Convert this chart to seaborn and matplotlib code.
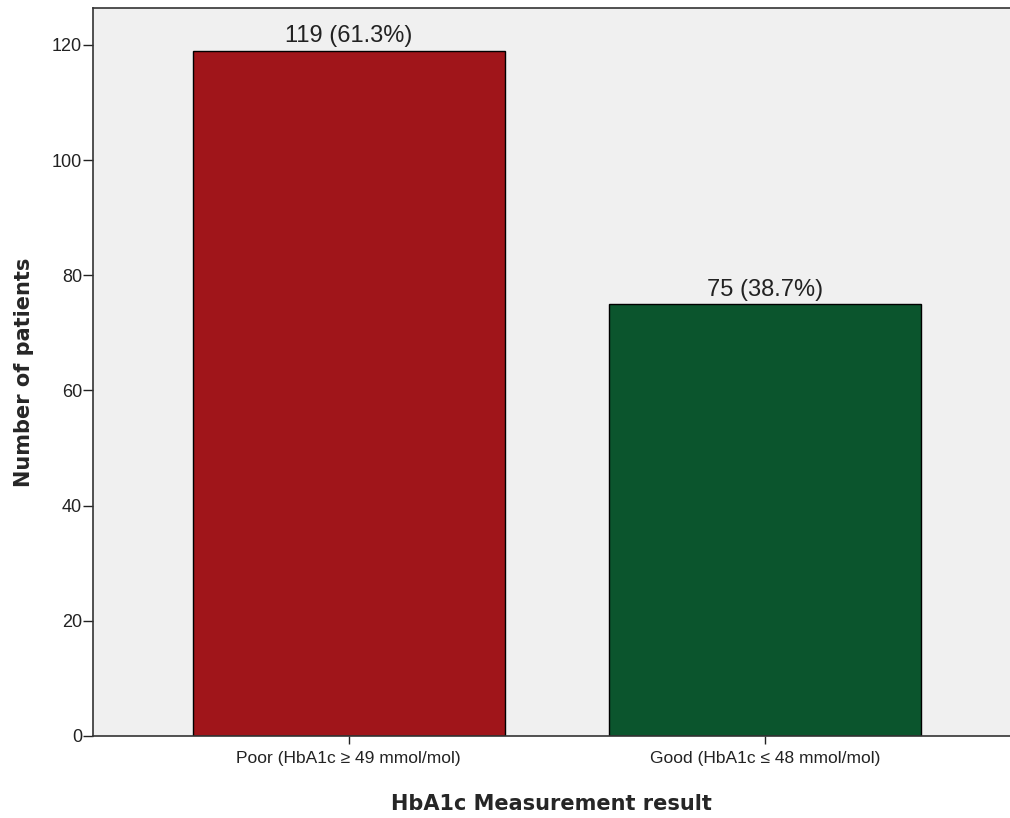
import matplotlib
matplotlib.use("Agg")
import matplotlib.pyplot as plt
import seaborn as sns
import pandas as pd

# chart data
categories = ["Poor (HbA1c \u2265 49 mmol/mol)", "Good (HbA1c \u2264 48 mmol/mol)"]
counts = [119, 75]
percents = [61.3, 38.7]
bar_colors = ["#A0151A", "#0B552D"]

sns.set_style("white")
plt.rcParams['font.family'] = ['Liberation Sans', 'DejaVu Sans']

df = pd.DataFrame({"result": categories, "patients": counts})

fig = plt.figure(figsize=(10.10, 8.18), dpi=100)
ax = fig.add_axes([93 / 1010, 1 - 736 / 818, (1010 - 93) / 1010, (736 - 8) / 818])
ax.set_facecolor("#F0F0F0")

sns.barplot(data=df, x="result", y="patients", hue="result", palette=bar_colors,
            saturation=1, width=0.75, edgecolor="black", linewidth=1.0,
            legend=False, ax=ax)

for i, (c, p) in enumerate(zip(counts, percents)):
    ax.annotate(f"{c} ({p}%)", (i, c), xytext=(0, 2.5), textcoords="offset points",
                ha="center", va="bottom", fontsize=17, color="#222222")

ax.set_xlim(-0.614, 1.588)
ax.set_ylim(0, 126.4)
ax.set_yticks(range(0, 121, 20))

ax.set_xlabel("HbA1c Measurement result", fontsize=15, fontweight="bold",
              family="DejaVu Sans", labelpad=20)
ax.set_ylabel("Number of patients", fontsize=15, fontweight="bold",
              family="DejaVu Sans", labelpad=13)

ax.tick_params(axis="y", direction="out", length=7, width=1, labelsize=13, pad=1, colors="#222222")
ax.tick_params(axis="x", direction="out", length=6, width=1, labelsize=12.5, pad=5, colors="#222222")
ax.tick_params(axis="both", left=True, bottom=True)

for side in ["left", "bottom", "top"]:
    ax.spines[side].set_visible(True)
    ax.spines[side].set_color("#333333")
    ax.spines[side].set_linewidth(1.2)
ax.spines["right"].set_visible(False)

fig.savefig("out.png", dpi=100)
